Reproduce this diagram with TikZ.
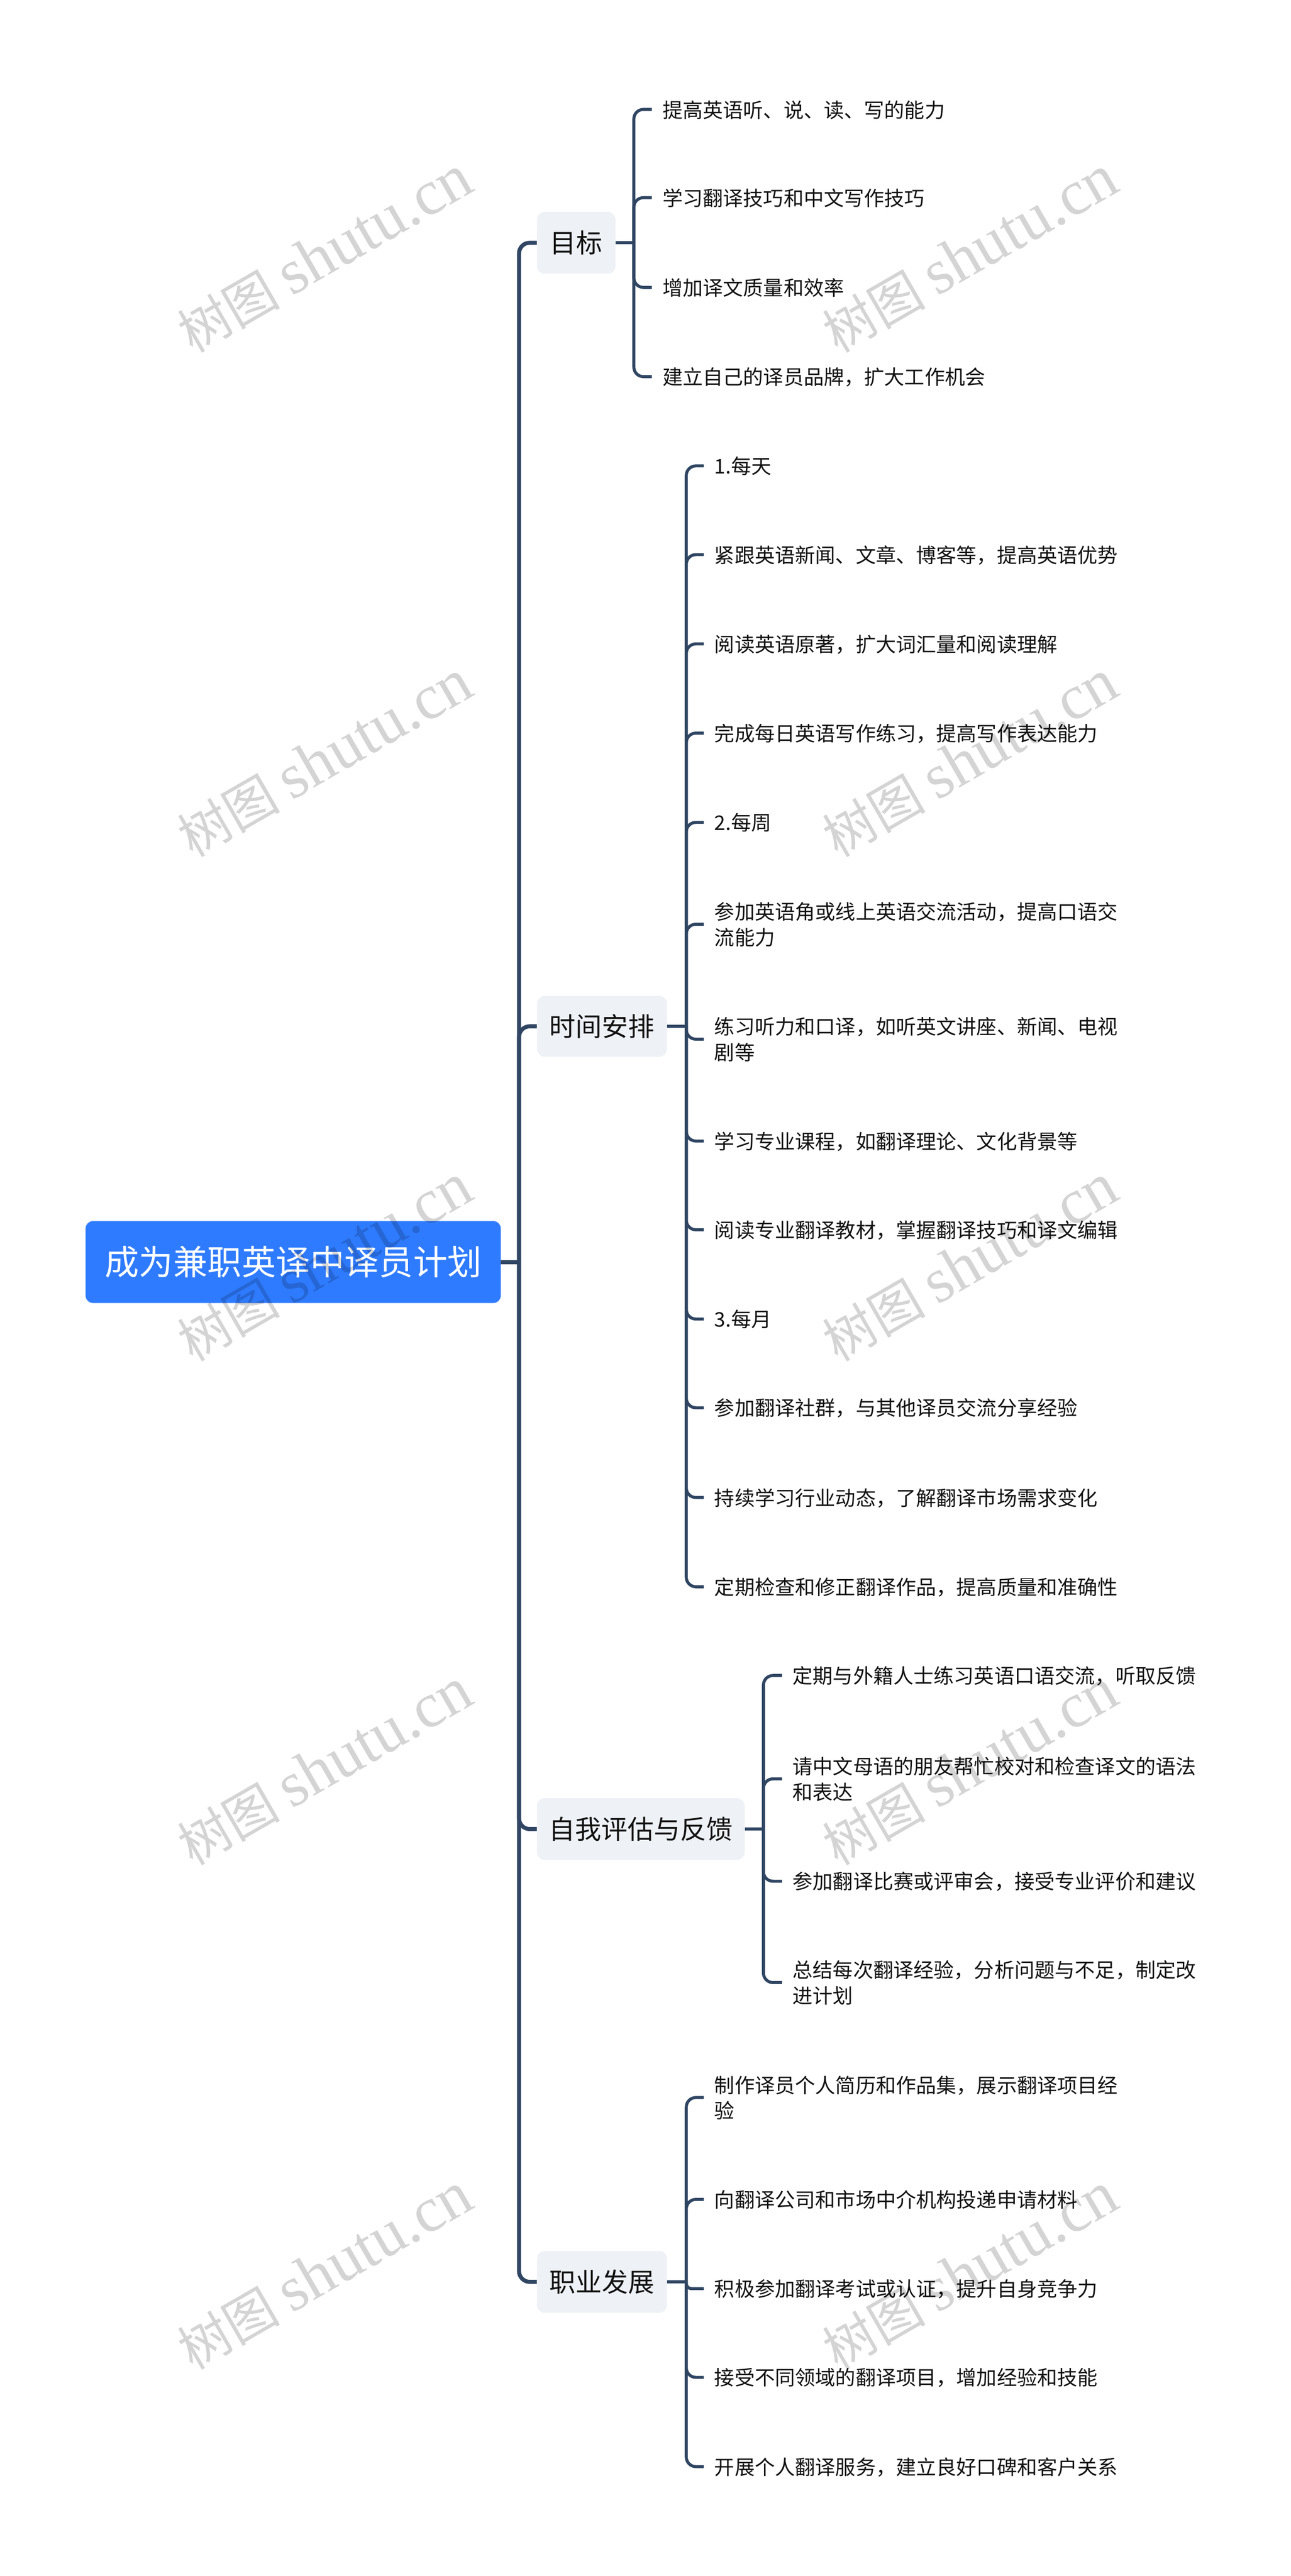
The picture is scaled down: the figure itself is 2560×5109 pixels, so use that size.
\documentclass[tikz,border=0pt]{standalone}
\usepackage{fontspec}
\setmainfont{Noto Sans CJK SC}
\newfontfamily\wmlat{Liberation Serif}
\newfontfamily\wmcjk{Noto Sans CJK SC}
\newcommand{\zs}{\rule{0pt}{.90em}\rule[-.10em]{0pt}{.10em}}
\newcommand{\wmtext}{{\fontsize{102}{130}\selectfont\wmcjk 树图} {\fontsize{126}{140}\selectfont\wmlat shutu.cn}}
\definecolor{linec}{HTML}{2F4562}
\definecolor{rootc}{HTML}{2E7BFF}
\definecolor{topc}{HTML}{EEF2F6}
\tikzset{
  x=1pt,y=-1pt,
  rootbox/.style={fill=rootc,draw=rootc!85!white,line width=1pt,rounded corners=15pt,text=white,minimum width=823pt,minimum height=162pt,inner sep=0pt,font=\fontsize{68}{80}\selectfont},
  topbox/.style={fill=topc,rounded corners=16pt,text=black!93,minimum height=123pt,inner sep=0pt,font=\fontsize{52}{62}\selectfont},
  leaf/.style={anchor=west,inner ysep=0pt,inner xsep=21pt,align=left,text=black!93,font=\fontsize{40}{51}\selectfont},
  trunkline/.style={draw=linec,line width=8pt},
  busline/.style={draw=linec,line width=6pt},
  wm/.style={text=black,text opacity=.17,rotate=30,inner sep=0pt,font=\fontsize{102}{130}\selectfont}
}
\begin{document}
\begin{tikzpicture}
\useasboundingbox (0,0) rectangle (2560,5109);
\fill[white] (0,0) rectangle (2560,5109);
\node[rootbox] (root) at (581.5,2503) {成为兼职英译中译员计划};
\node[topbox,minimum width=156pt] (ta) at (1143,481.5) {目标};
\node[topbox,minimum width=258pt,minimum height=121pt] (tb) at (1194,2035.5) {时间安排};
\node[topbox,minimum width=412pt] (tc) at (1271,3627.5) {自我评估与反馈};
\node[topbox,minimum width=258pt] (td) at (1194,4525.5) {职业发展};
% group A
\node[leaf] (a1) at (1293,217) {\zs 提高英语听、说、读、写的能力};
\node[leaf] (a2) at (1293,392) {\zs 学习翻译技巧和中文写作技巧};
\node[leaf] (a3) at (1293,570) {\zs 增加译文质量和效率};
\node[leaf] (a4) at (1293,747) {\zs 建立自己的译员品牌，扩大工作机会};
% group B
\node[leaf] (b1) at (1396,924) {\zs 1.每天};
\node[leaf] (b2) at (1396,1100) {\zs 紧跟英语新闻、文章、博客等，提高英语优势};
\node[leaf] (b3) at (1396,1277) {\zs 阅读英语原著，扩大词汇量和阅读理解};
\node[leaf] (b4) at (1396,1454) {\zs 完成每日英语写作练习，提高写作表达能力};
\node[leaf] (b5) at (1396,1631) {\zs 2.每周};
\node[leaf] (b6) at (1396,1833) {\zs 参加英语角或线上英语交流活动，提高口语交\\\zs 流能力};
\node[leaf] (b7) at (1396,2061) {\zs 练习听力和口译，如听英文讲座、新闻、电视\\\zs 剧等};
\node[leaf] (b8) at (1396,2263) {\zs 学习专业课程，如翻译理论、文化背景等};
\node[leaf] (b9) at (1396,2439) {\zs 阅读专业翻译教材，掌握翻译技巧和译文编辑};
\node[leaf] (b10) at (1396,2616) {\zs 3.每月};
\node[leaf] (b11) at (1396,2792) {\zs 参加翻译社群，与其他译员交流分享经验};
\node[leaf] (b12) at (1396,2970) {\zs 持续学习行业动态，了解翻译市场需求变化};
\node[leaf] (b13) at (1396,3147) {\zs 定期检查和修正翻译作品，提高质量和准确性};
% group C
\node[leaf] (c1) at (1551,3323) {\zs 定期与外籍人士练习英语口语交流，听取反馈};
\node[leaf] (c2) at (1551,3528) {\zs 请中文母语的朋友帮忙校对和检查译文的语法\\\zs 和表达};
\node[leaf] (c3) at (1551,3731) {\zs 参加翻译比赛或评审会，接受专业评价和建议};
\node[leaf] (c4) at (1551,3932) {\zs 总结每次翻译经验，分析问题与不足，制定改\\\zs 进计划};
% group D
\node[leaf] (d1) at (1396,4160) {\zs 制作译员个人简历和作品集，展示翻译项目经\\\zs 验};
\node[leaf] (d2) at (1396,4362) {\zs 向翻译公司和市场中介机构投递申请材料};
\node[leaf] (d3) at (1396,4539) {\zs 积极参加翻译考试或认证，提升自身竞争力};
\node[leaf] (d4) at (1396,4715) {\zs 接受不同领域的翻译项目，增加经验和技能};
\node[leaf] (d5) at (1396,4892) {\zs 开展个人翻译服务，建立良好口碑和客户关系};
% trunk
\draw[trunkline] (root.east) -- ++(36,0) coordinate (tr);
\foreach \n in {ta,tb,tc,td}
  \draw[trunkline,rounded corners=21pt] (tr) |- (\n.west);
% buses
\draw[busline] (ta.east) -- ++(36,0) coordinate (ba);
\foreach \n in {a1,a2,a3,a4}
  \draw[busline,rounded corners=19pt] (ba) |- (\n.west);
\draw[busline] (tb.east) -- ++(38,0) coordinate (bb);
\foreach \n in {b1,b2,b3,b4,b5,b6,b7,b8,b9,b10,b11,b12,b13}
  \draw[busline,rounded corners=19pt] (bb) |- (\n.west);
\draw[busline] (tc.east) -- ++(37,0) coordinate (bc);
\foreach \n in {c1,c2,c3,c4}
  \draw[busline,rounded corners=19pt] (bc) |- (\n.west);
\draw[busline] (td.east) -- ++(38,0) coordinate (bd);
\foreach \n in {d1,d2,d4,d5}
  \draw[busline,rounded corners=19pt] (bd) |- (\n.west);
\draw[busline,rounded corners=10pt] (bd) |- (d3.west);
% watermarks
\foreach \i/\y in {1/505,2/1505,3/2505,4/3505,5/4505}{
  \node[wm] (wl\i) at (644,\y) {\wmtext};
  \node[wm] (wr\i) at (1924,\y) {\wmtext};
}
\end{tikzpicture}
\end{document}
